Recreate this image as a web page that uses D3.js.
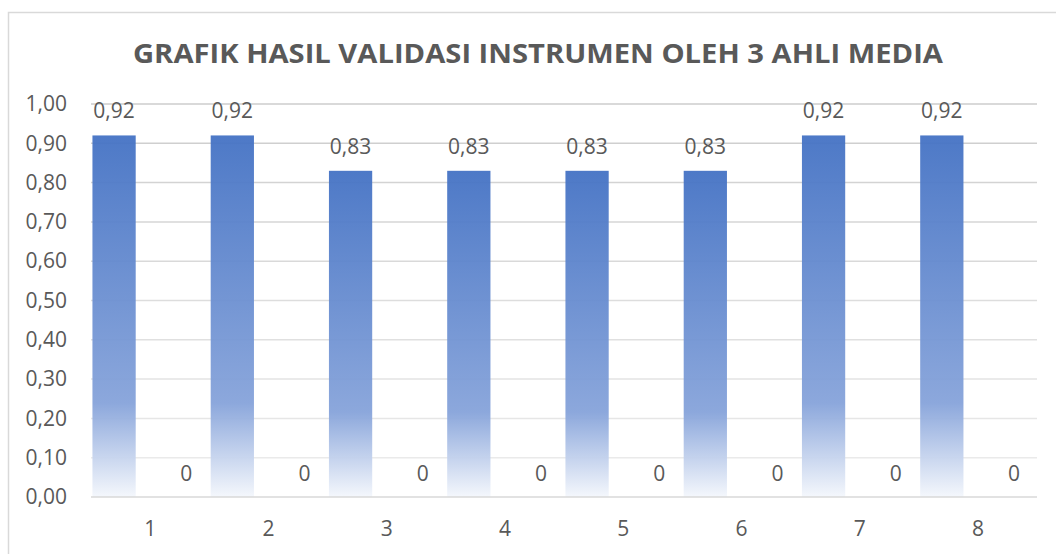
<!DOCTYPE html>
<html>
<head>
<meta charset="utf-8">
<script src="https://cdn.jsdelivr.net/npm/d3@7"></script>
<style>
  body { margin: 0; background: #fff; }
  text { font-family: "Open Sans", sans-serif; fill: #595959; }
</style>
</head>
<body>
<svg width="1056" height="554"></svg>
<script>
// chart data
const categories = ["1", "2", "3", "4", "5", "6", "7", "8"];
const seriesNames = ["nilai", "nol"];
const nilai = [0.92, 0.92, 0.83, 0.83, 0.83, 0.83, 0.92, 0.92];
const nol = [0, 0, 0, 0, 0, 0, 0, 0];
const yTicks = [0, 0.1, 0.2, 0.3, 0.4, 0.5, 0.6, 0.7, 0.8, 0.9, 1.0];
const title = "GRAFIK HASIL VALIDASI INSTRUMEN OLEH 3 AHLI MEDIA";

const svg = d3.select("svg");
const fmt = (v) => v.toFixed(2).replace(".", ",");

// chart area border
svg.append("rect")
  .attr("x", 8.5).attr("y", 12.5)
  .attr("width", 1100).attr("height", 600)
  .attr("fill", "none").attr("stroke", "#d9d9d9").attr("stroke-width", 1.5);

svg.append("text")
  .attr("x", 538).attr("y", 63)
  .attr("text-anchor", "middle")
  .attr("font-size", 27).attr("font-weight", "bold")
  .attr("textLength", 810).attr("lengthAdjust", "spacingAndGlyphs")
  .text(title);

const x = d3.scaleBand().domain(categories).range([91, 1037]).padding(0);
const xs = d3.scaleBand().domain(seriesNames).range([0, x.bandwidth()])
  .paddingInner(0.4).paddingOuter(0.02);
const y = d3.scaleLinear().domain([0, 1]).range([497, 104]);

// gradient like the Excel fill
const defs = svg.append("defs");
const grad = defs.append("linearGradient").attr("id", "barGrad")
  .attr("x1", 0).attr("y1", 0).attr("x2", 0).attr("y2", 1);
grad.append("stop").attr("offset", "0%").attr("stop-color", "#4472c4");
grad.append("stop").attr("offset", "74%").attr("stop-color", "#86a3da");
grad.append("stop").attr("offset", "100%").attr("stop-color", "#f4f7fc");

// gridlines
const grid = d3.scaleLinear().domain([0, 1]).range(["#ededed", "#cccccc"]);
svg.append("g")
  .selectAll("line")
  .data(yTicks.slice(1))
  .join("line")
  .attr("x1", 91).attr("x2", 1037)
  .attr("y1", (d) => y(d)).attr("y2", (d) => y(d))
  .attr("stroke", (d) => grid(d)).attr("stroke-width", 1.5);

// bars
svg.append("g")
  .selectAll("rect")
  .data(nilai)
  .join("rect")
  .attr("x", (d, i) => x(categories[i]) + xs("nilai"))
  .attr("y", (d) => y(d))
  .attr("width", xs.bandwidth())
  .attr("height", (d) => y(0) - y(d))
  .attr("fill", "url(#barGrad)")
  .attr("opacity", 0.95);

// x axis line
svg.append("line")
  .attr("x1", 91).attr("x2", 1037)
  .attr("y1", y(0)).attr("y2", y(0))
  .attr("stroke", "#d9d9d9").attr("stroke-width", 1.5);

// y axis labels
const yAxis = d3.axisLeft(y).tickValues(yTicks).tickFormat(fmt).tickSize(0).tickPadding(24);
const yg = svg.append("g").attr("transform", "translate(91,0)").call(yAxis);
yg.select(".domain").remove();
yg.selectAll("text").attr("font-size", 21).attr("fill", "#595959")
  .attr("font-family", "Open Sans, sans-serif");

// x axis labels
const xAxis = d3.axisBottom(x).tickSize(0).tickPadding(24);
const xg = svg.append("g").attr("transform", `translate(0,${y(0)})`).call(xAxis);
xg.select(".domain").remove();
xg.selectAll("text").attr("font-size", 21).attr("fill", "#595959")
  .attr("font-family", "Open Sans, sans-serif");

// data labels
svg.append("g")
  .selectAll("text")
  .data(nilai)
  .join("text")
  .attr("x", (d, i) => x(categories[i]) + xs("nilai") + xs.bandwidth() / 2)
  .attr("y", (d) => y(d) - 17)
  .attr("text-anchor", "middle")
  .attr("font-size", 21)
  .text(fmt);

svg.append("g")
  .selectAll("text")
  .data(nol)
  .join("text")
  .attr("x", (d, i) => x(categories[i]) + xs("nol") + xs.bandwidth() / 2)
  .attr("y", (d) => y(d) - 16)
  .attr("text-anchor", "middle")
  .attr("font-size", 21)
  .text((d) => d);
</script>
</body>
</html>
